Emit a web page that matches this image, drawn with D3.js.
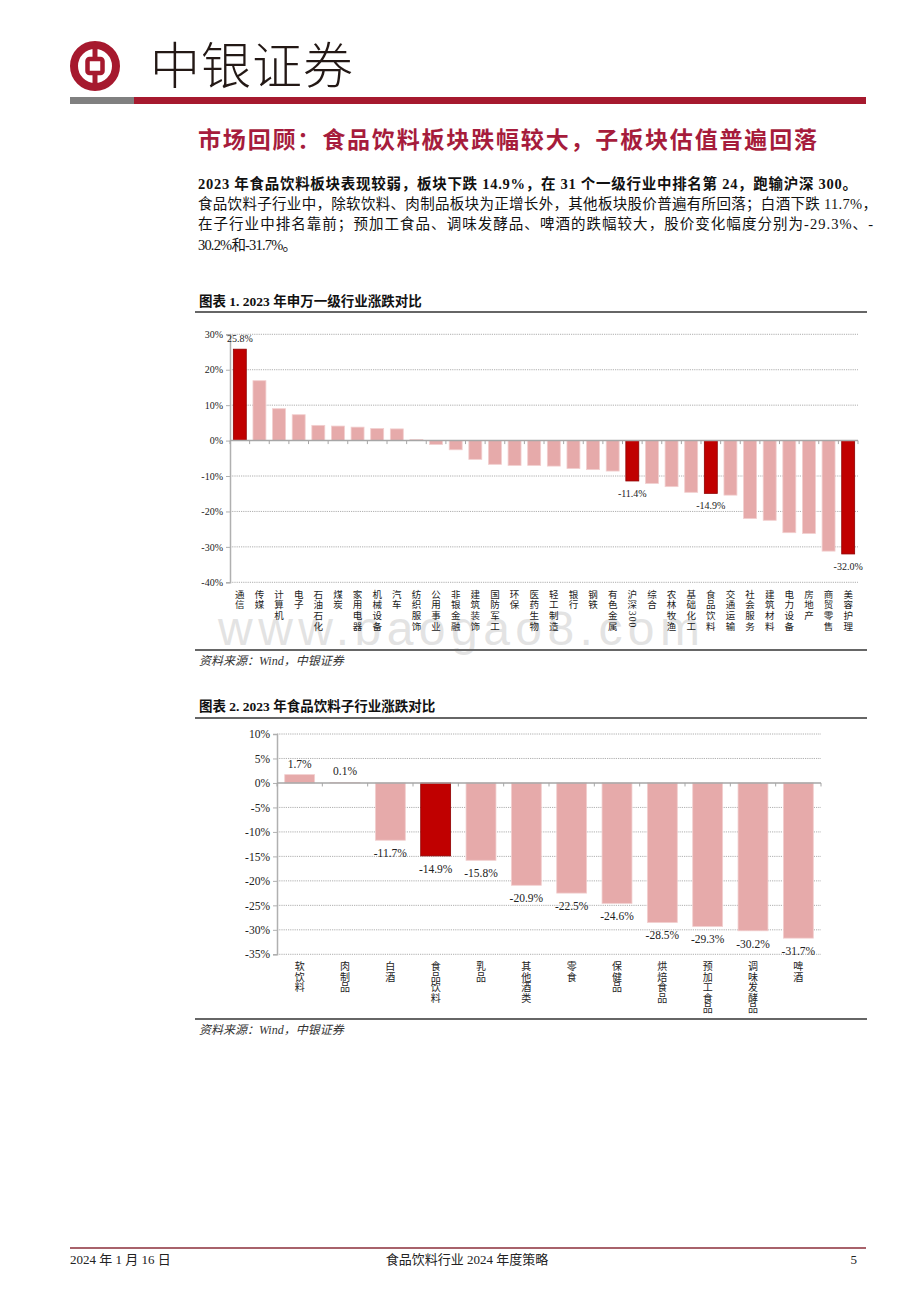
<!DOCTYPE html>
<html>
<head>
<meta charset="utf-8">
<script src="https://cdn.jsdelivr.net/npm/d3@7"></script>
<style>
body { margin: 0; background: #fff; }
svg { display: block; }
</style>
</head>
<body>
<svg id="page" width="920" height="1302"></svg>
<script>
// chart 1: 申万一级行业 2023 涨跌幅 (%)
const industries = ["通信", "传媒", "计算机", "电子", "石油石化", "煤炭", "家用电器", "机械设备", "汽车", "纺织服饰",
    "公用事业", "非银金融", "建筑装饰", "国防军工", "环保", "医药生物", "轻工制造", "银行", "钢铁", "有色金属",
    "沪深300", "综合", "农林牧渔", "基础化工", "食品饮料", "交通运输", "社会服务", "建筑材料", "电力设备", "房地产",
    "商贸零售", "美容护理"]
const industryValues = [25.8, 16.9, 9.0, 7.3, 4.3, 4.1, 3.8, 3.4, 3.3, 0.3,
    -1.1, -2.6, -5.3, -6.7, -7.0, -7.0, -7.2, -7.9, -8.2, -8.6,
    -11.4, -12.1, -13.0, -14.6, -14.9, -15.4, -22.0, -22.5, -26.0, -26.2,
    -31.2, -32.0]
const industryHighlight = ["通信", "沪深300", "食品饮料", "美容护理"]
const industryTicks = [30, 20, 10, 0, -10, -20, -30, -40]

// chart 2: 食品饮料子行业 2023 涨跌幅 (%)
const subIndustries = ["软饮料", "肉制品", "白酒", "食品饮料", "乳品", "其他酒类", "零食", "保健品", "烘焙食品",
    "预加工食品", "调味发酵品", "啤酒"]
const subValues = [1.7, 0.1, -11.7, -14.9, -15.8, -20.9, -22.5, -24.6, -28.5, -29.3, -30.2, -31.7]
const subHighlight = ["食品饮料"]
const subTicks = [10, 5, 0, -5, -10, -15, -20, -25, -30, -35]

// page texts
const brandName = "中银证券"
const sectionTitle = "市场回顾：食品饮料板块跌幅较大，子板块估值普遍回落"
const paragraphLines = [
    "2023 年食品饮料板块表现较弱，板块下跌 14.9%，在 31 个一级行业中排名第 24，跑输沪深 300。",
    "食品饮料子行业中，除软饮料、肉制品板块为正增长外，其他板块股价普遍有所回落；白酒下跌 11.7%，",
    "在子行业中排名靠前；预加工食品、调味发酵品、啤酒的跌幅较大，股价变化幅度分别为-29.3%、-",
    "30.2%和-31.7%。"
]
const figureTitles = ["图表 1. 2023 年申万一级行业涨跌对比", "图表 2. 2023 年食品饮料子行业涨跌对比"]
const sourceText = "资料来源：Wind，中银证券"
const footerTexts = ["2024 年 1 月 16 日", "食品饮料行业 2024 年度策略", "5"]
const watermark = "www.baogao8.com"

const SERIF = "'Liberation Serif', 'Noto Sans CJK SC', serif"
const BRAND_RED = "#A6192E"
const PINK = "#E6AAAA"
const DARK_RED = "#C00000"
const fmt = v => d3.format(".1f")(v).replace("−", "-") + "%"

const svg = d3.select("#page")

// watermark goes first so everything else sits on top of it
svg.append("text")
    .attr("x", 218).attr("y", 645)
    .attr("font-family", "'Liberation Sans', sans-serif")
    .attr("font-size", 48)
    .attr("fill", "#dcdcdc")
    .attr("fill-opacity", 0.8)
    .attr("textLength", 482).attr("lengthAdjust", "spacing")
    .text(watermark)

// ---------- header ----------
let logo = svg.append("g").attr("transform", "translate(95,66)")
logo.append("circle").attr("r", 21).attr("fill", "#fff")
    .attr("stroke", BRAND_RED).attr("stroke-width", 8)
logo.append("line").attr("x1", 0).attr("x2", 0).attr("y1", -22).attr("y2", 22)
    .attr("stroke", BRAND_RED).attr("stroke-width", 5)
logo.append("rect").attr("x", -7.5).attr("y", -7).attr("width", 15).attr("height", 14).attr("rx", 2)
    .attr("fill", "#fff").attr("stroke", BRAND_RED).attr("stroke-width", 4.5)

svg.append("text")
    .attr("x", 150).attr("y", 84)
    .attr("font-family", "'Noto Sans CJK SC', sans-serif")
    .attr("font-weight", 300)
    .attr("font-size", 50)
    .attr("letter-spacing", 1)
    .attr("fill", "#231815")
    .text(brandName)

svg.append("rect").attr("x", 70).attr("y", 97).attr("width", 64).attr("height", 7).attr("fill", "#808080")
svg.append("rect").attr("x", 134).attr("y", 97).attr("width", 732).attr("height", 7).attr("fill", BRAND_RED)

// ---------- section title + paragraph ----------
svg.append("text")
    .attr("x", 198).attr("y", 148)
    .attr("font-family", SERIF)
    .attr("font-weight", "bold")
    .attr("font-size", 23)
    .attr("fill", "#A61C3C")
    .attr("textLength", 619).attr("lengthAdjust", "spacing")
    .text(sectionTitle)

const paraWidths = [659, 679, 675, 99]
paragraphLines.forEach((line, i) => {
    svg.append("text")
        .attr("x", 198).attr("y", 189 + i * 20.2)
        .attr("font-family", SERIF)
        .attr("font-size", 14.5)
        .attr("font-weight", i == 0 ? "bold" : "normal")
        .attr("fill", "#111")
        .attr("textLength", paraWidths[i]).attr("lengthAdjust", "spacing")
        .text(line)
})

// ---------- figure frame: title, rules, source ----------
function drawFrame(title, titleY, topRule, bottomRule) {
    svg.append("text")
        .attr("x", 199).attr("y", titleY)
        .attr("font-family", SERIF)
        .attr("font-weight", "bold")
        .attr("font-size", 13.5)
        .attr("fill", "#111")
        .text(title)
    svg.append("line").attr("x1", 195).attr("x2", 867).attr("y1", topRule).attr("y2", topRule)
        .attr("stroke", "#666").attr("stroke-width", 2)
    svg.append("line").attr("x1", 195).attr("x2", 867).attr("y1", bottomRule).attr("y2", bottomRule)
        .attr("stroke", "#666").attr("stroke-width", 2)
    svg.append("text")
        .attr("x", 199).attr("y", bottomRule + 15)
        .attr("font-family", SERIF)
        .attr("font-style", "italic")
        .attr("font-size", 12)
        .attr("fill", "#333")
        .text(sourceText)
}

// ---------- bar chart ----------
function drawBars(opt) {
    let g = svg.append("g")

    let x = d3.scaleBand()
        .domain(opt.categories)
        .range([opt.left, opt.right])
        .paddingInner(0.34)
        .paddingOuter(0.17)
    let y = d3.scaleLinear()
        .domain([d3.min(opt.ticks), d3.max(opt.ticks)])
        .range([opt.bottom, opt.top])

    // dotted gridlines
    g.selectAll(".grid")
        .data(opt.ticks.filter(t => t != 0))
        .join("line")
        .attr("x1", opt.left).attr("x2", opt.right)
        .attr("y1", d => y(d)).attr("y2", d => y(d))
        .attr("stroke", "#9a9a9a")
        .attr("stroke-width", 0.8)
        .attr("stroke-dasharray", "1.2,1")

    // y axis
    let yAxis = d3.axisLeft(y)
        .tickValues(opt.ticks)
        .tickSize(4)
        .tickPadding(3)
        .tickFormat(d => d + "%")
    let gy = g.append("g")
        .attr("transform", `translate(${opt.left},0)`)
        .call(yAxis)
    gy.select(".domain").attr("stroke", "#b0b0b0").attr("stroke-width", 1.5)
    gy.selectAll(".tick line").attr("stroke", "#b0b0b0")
    gy.selectAll(".tick text")
        .attr("font-family", SERIF)
        .attr("font-size", opt.tickFont)
        .attr("fill", "#222")

    let rows = opt.categories.map((c, i) => ({name: c, value: opt.values[i]}))

    g.selectAll(".bar")
        .data(rows)
        .join("rect")
        .attr("x", d => x(d.name))
        .attr("y", d => y(Math.max(0, d.value)))
        .attr("width", x.bandwidth())
        .attr("height", d => Math.abs(y(d.value) - y(0)))
        .attr("fill", d => opt.highlight.includes(d.name) ? DARK_RED : PINK)
        .attr("stroke", d => opt.highlight.includes(d.name) ? "#8E0000" : "#F2CFCF")
        .attr("stroke-width", 0.8)

    // zero line with category ticks
    let y0 = y(0)
    g.append("line")
        .attr("x1", opt.left).attr("x2", opt.right)
        .attr("y1", y0).attr("y2", y0)
        .attr("stroke", "#a6a6a6").attr("stroke-width", 1.5)
    let step = x.step()
    g.selectAll(".xtick")
        .data(d3.range(opt.categories.length + 1))
        .join("line")
        .attr("x1", i => opt.left + i * step).attr("x2", i => opt.left + i * step)
        .attr("y1", y0).attr("y2", y0 + 3.5)
        .attr("stroke", "#a6a6a6")

    // category labels: the whole label turned 90deg, CJK glyphs turned back upright,
    // latin digits left sideways (as in vertical Chinese typesetting)
    let fs = opt.catFont
    rows.forEach(d => {
        let cx = x(d.name) + x.bandwidth() / 2
        let top = opt.bottom + 7
        let t = g.append("text")
            .attr("transform", `translate(${cx - fs / 2},${top + fs * 0.88}) rotate(90)`)
            .attr("font-family", SERIF)
            .attr("font-size", fs)
            .attr("letter-spacing", opt.charStep - fs)
            .attr("fill", "#222")
        let firstLatin = true
        Array.from(d.name).forEach(ch => {
            let sp = t.append("tspan").text(ch)
            if (/[0-9A-Za-z]/.test(ch)) {
                if (firstLatin) {
                    sp.attr("dx", -0.88 * fs).attr("dy", -0.15 * fs)
                    firstLatin = false
                }
            } else {
                sp.attr("rotate", -90)
            }
        })
    })

    // value labels
    g.selectAll(".val")
        .data(rows.filter(d => opt.labelled.includes(d.name)))
        .join("text")
        .attr("x", d => x(d.name) + x.bandwidth() / 2)
        .attr("y", d => d.value >= 0 ? y(d.value) - 7 : y(d.value) + opt.belowGap)
        .attr("text-anchor", "middle")
        .attr("font-family", SERIF)
        .attr("font-size", opt.valueFont)
        .attr("fill", "#222")
        .text(d => fmt(d.value))
}

// figure 1
drawFrame(figureTitles[0], 306, 312, 650)
drawBars({
    categories: industries,
    values: industryValues,
    highlight: industryHighlight,
    labelled: industryHighlight,
    ticks: industryTicks,
    left: 230, right: 858, top: 334.3, bottom: 582.3,
    tickFont: 10, catFont: 9.5, charStep: 10.7, valueFont: 10, belowGap: 16
})

// figure 2
drawFrame(figureTitles[1], 711, 718, 1019)
drawBars({
    categories: subIndustries,
    values: subValues,
    highlight: subHighlight,
    labelled: subIndustries,
    ticks: subTicks,
    left: 277, right: 821, top: 734, bottom: 954.3,
    tickFont: 11.5, catFont: 10, charStep: 10.5, valueFont: 11.5, belowGap: 17
})

// ---------- footer ----------
svg.append("line").attr("x1", 70).attr("x2", 866).attr("y1", 1248).attr("y2", 1248)
    .attr("stroke", "#8B2E3A").attr("stroke-width", 1.5)
let footer = svg.append("g")
    .attr("font-family", SERIF)
    .attr("font-size", 13)
    .attr("fill", "#222")
footer.append("text").attr("x", 70).attr("y", 1264).text(footerTexts[0])
footer.append("text").attr("x", 467).attr("y", 1264).attr("text-anchor", "middle").text(footerTexts[1])
footer.append("text").attr("x", 857).attr("y", 1264).attr("text-anchor", "end").text(footerTexts[2])
</script>
</body>
</html>
